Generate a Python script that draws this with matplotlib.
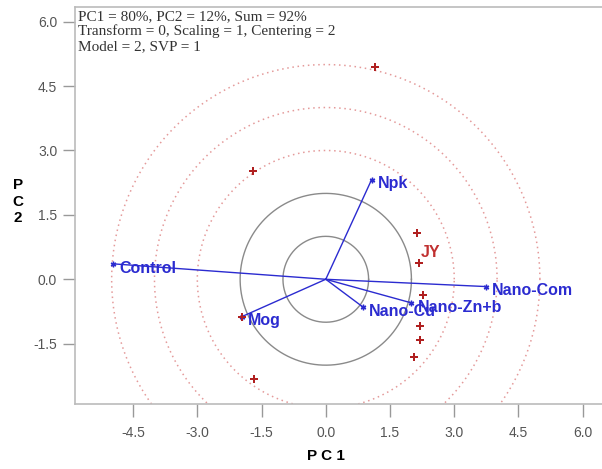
import numpy as np
import matplotlib
matplotlib.use("Agg")
import matplotlib.pyplot as plt

# Treatment vectors (blue)
treatments = ["Control", "Npk", "Nano-Com", "Mog", "Nano-Cu", "Nano-Zn+b"]
treat_pc1 = [-4.97, 1.07, 3.75, -1.96, 0.86, 2.00]
treat_pc2 = [0.36, 2.32, -0.17, -0.87, -0.64, -0.55]

# Observation points (red)
obs_pc1 = [1.14, -1.70, -1.68, -1.96, 2.12, 2.17, 2.28, 2.19, 2.19, 2.07]
obs_pc2 = [4.95, 2.53, -2.32, -0.87, 1.08, 0.38, -0.36, -1.08, -1.41, -1.81]

trait_label = "JY"
trait_pos = (2.17, 0.38)

solid_radii = [1, 2]
dotted_radii = [3, 4, 5]

ticks = [-4.5, -3.0, -1.5, 0.0, 1.5, 3.0, 4.5, 6.0]
yticks = [-1.5, 0.0, 1.5, 3.0, 4.5, 6.0]

info_lines = ["PC1 = 80%, PC2 = 12%, Sum = 92%",
              "Transform = 0, Scaling = 1, Centering = 2",
              "Model = 2, SVP = 1"]

fig = plt.figure(figsize=(6.02, 4.69), dpi=100)
ax = fig.add_axes([0.125, 0.139, 0.875, 0.846])
ax.set_xlim(-5.85, 6.45)
ax.set_ylim(-2.90, 6.34)

th = np.linspace(0, 2 * np.pi, 400)
for r in solid_radii:
    ax.plot(r * np.cos(th), r * np.sin(th), color="#8a8a8a", lw=1.0, zorder=1)
for r in dotted_radii:
    ax.plot(r * np.cos(th), r * np.sin(th), color="#e49a9a", lw=1.1,
            linestyle=(0, (1.0, 2.4)), zorder=1)

blue = "#2b2bd0"
for name, x, y in zip(treatments, treat_pc1, treat_pc2):
    ax.plot([0, x], [0, y], color=blue, lw=1.0, zorder=3)
    ax.plot(x, y, marker=(6, 2, 0), color=blue, ms=4, mew=1, zorder=4)
    ax.text(x + 0.14, y - 0.1, name, color=blue, fontsize=11.5,
            fontweight="bold", family="Liberation Sans", va="center",
            ha="left", zorder=5)

ax.plot(obs_pc1, obs_pc2, linestyle="none", marker="P", color="#b02020",
        ms=6, mew=0, zorder=4)
ax.text(trait_pos[0] + 0.05, trait_pos[1] + 0.24, trait_label, color="#c03030",
        fontsize=11.5, fontweight="bold", family="Liberation Sans",
        va="center", ha="left", zorder=5)

ax.text(0.005, 0.993, "\n".join(info_lines), transform=ax.transAxes,
        va="top", ha="left", family="Liberation Serif", fontsize=11,
        color="#333333", linespacing=1.15)

ax.set_xticks(ticks)
ax.set_xticklabels([f"{t:.1f}" for t in ticks])
ax.set_yticks(yticks)
ax.set_yticklabels([f"{t:.1f}" for t in yticks])
for s in ["left", "bottom", "top"]:
    ax.spines[s].set_color("#bbbbbb")
    ax.spines[s].set_linewidth(1.2)
ax.spines["right"].set_visible(False)
ax.tick_params(axis="both", colors="#999999", labelcolor="#555555",
               length=9, width=1, labelsize=10, pad=4)
ax.tick_params(axis="x", pad=7)
for lab in ax.get_xticklabels() + ax.get_yticklabels():
    lab.set_family("Liberation Sans")

fig.text(0.541, 0.012, "P C 1", ha="center", va="bottom", fontsize=11,
         fontweight="bold", family="Liberation Sans")
fig.text(0.03, 0.57, "P\nC\n2", ha="center", va="center", fontsize=11,
         fontweight="bold", family="Liberation Sans", linespacing=1.25)

fig.savefig("out.png", dpi=100)
